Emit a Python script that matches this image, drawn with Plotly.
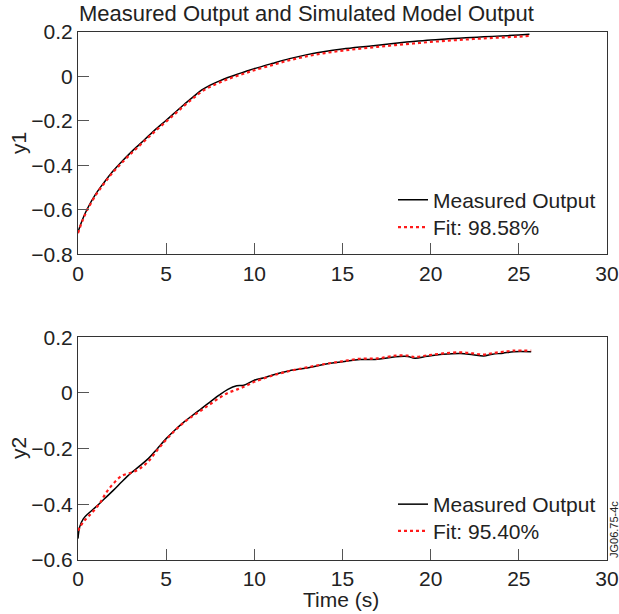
import plotly.graph_objects as go

# ---------------- data ----------------
t1_meas = [0, 0.25, 0.5, 1.0, 1.5, 2.0, 2.5, 3.0, 3.5, 4.0, 4.5, 5.0, 5.5, 6.0, 6.5, 7.0, 7.5,
           8.0, 8.5, 9.0, 9.5, 10, 11, 12, 13, 14, 15, 16, 17, 18, 19, 20, 21, 22, 23, 24, 25, 25.6]
y1_meas = [-0.700, -0.645, -0.600, -0.530, -0.475, -0.425, -0.382, -0.342, -0.305, -0.268, -0.232,
           -0.198, -0.163, -0.128, -0.095, -0.063, -0.040, -0.022, -0.006, 0.008, 0.021, 0.034,
           0.057, 0.079, 0.097, 0.111, 0.122, 0.131, 0.139, 0.148, 0.156, 0.163, 0.168, 0.173,
           0.177, 0.181, 0.185, 0.188]
y1_fit = [-0.705, -0.650, -0.605, -0.535, -0.480, -0.430, -0.388, -0.348, -0.311, -0.274, -0.238,
          -0.204, -0.169, -0.134, -0.101, -0.070, -0.047, -0.029, -0.013, 0.001, 0.014, 0.027,
          0.050, 0.072, 0.090, 0.104, 0.115, 0.124, 0.132, 0.140, 0.147, 0.154, 0.160, 0.165,
          0.170, 0.174, 0.178, 0.181]

t2_meas = [0, 0.1, 0.3, 0.6, 1.0, 1.5, 2.0, 2.5, 3.0, 3.5, 4.0, 4.5, 5.0, 5.5, 6.0, 6.5, 7.0, 7.5,
           8.0, 8.5, 9.0, 9.4, 10, 10.5, 11, 11.5, 12, 13, 14, 15, 16, 17, 18, 18.7, 19.1, 19.8,
           20.7, 21.7, 22.4, 23.0, 23.5, 24.1, 24.7, 25.7]
y2_meas = [-0.523, -0.480, -0.452, -0.432, -0.410, -0.380, -0.350, -0.318, -0.288, -0.262, -0.235,
           -0.200, -0.164, -0.133, -0.105, -0.080, -0.056, -0.032, -0.008, 0.013, 0.026, 0.028,
           0.046, 0.054, 0.064, 0.073, 0.080, 0.090, 0.103, 0.112, 0.120, 0.121, 0.130, 0.131,
           0.125, 0.132, 0.139, 0.142, 0.137, 0.133, 0.139, 0.143, 0.148, 0.148]

t2_fit = [0, 0.3, 0.6, 1.0, 1.3, 1.6, 2.0, 2.5, 3.0, 3.5, 4.0, 4.5, 5.0, 5.5, 6.0, 6.5, 7.0, 7.5,
          8.0, 8.5, 9.0, 9.5, 10, 11, 12, 13, 14, 15, 16, 17, 18, 18.7, 19.1, 19.8, 20.7, 21.7,
          22.4, 23.0, 23.5, 24.1, 24.7, 25.7]
y2_fit = [-0.495, -0.463, -0.443, -0.415, -0.390, -0.358, -0.326, -0.297, -0.287, -0.272, -0.245,
          -0.205, -0.168, -0.135, -0.106, -0.083, -0.062, -0.040, -0.018, 0.000, 0.012, 0.025,
          0.040, 0.062, 0.079, 0.092, 0.104, 0.114, 0.123, 0.124, 0.134, 0.134, 0.129, 0.135,
          0.142, 0.146, 0.142, 0.138, 0.143, 0.148, 0.152, 0.152]

x_ticks = [0, 5, 10, 15, 20, 25, 30]
y1_ticks = [-0.8, -0.6, -0.4, -0.2, 0, 0.2]
y2_ticks = [-0.6, -0.4, -0.2, 0, 0.2]
fit1_label = "Fit: 98.58%"
fit2_label = "Fit: 95.40%"


def fmt(v):
    s = "0" if v == 0 else f"{v:.1f}"
    return s.replace("-", "\u2212")


FONT = "Liberation Sans, Arial, sans-serif"
FS = 21
W, H = 619, 614
L, R = 78, 12
PW = W - L - R


def py(px):
    return 1 - px / H


def pxx(px):
    return (px - L) / PW


fig = go.Figure()

fig.add_trace(go.Scatter(x=t1_meas, y=y1_meas, mode="lines", name="Measured Output",
                         line=dict(color="black", width=1.5, shape="spline"), showlegend=True,
                         xaxis="x", yaxis="y", legend="legend"))
fig.add_trace(go.Scatter(x=t1_meas, y=y1_fit, mode="lines", name=fit1_label,
                         line=dict(color="#ff1a1a", width=2.2, dash="dot", shape="spline"),
                         showlegend=True, xaxis="x", yaxis="y", legend="legend2"))
fig.add_trace(go.Scatter(x=t2_meas, y=y2_meas, mode="lines", name="Measured Output",
                         line=dict(color="black", width=1.5, shape="spline"), showlegend=True,
                         xaxis="x2", yaxis="y2", legend="legend3"))
fig.add_trace(go.Scatter(x=t2_fit, y=y2_fit, mode="lines", name=fit2_label,
                         line=dict(color="#ff1a1a", width=2.2, dash="dot", shape="spline"),
                         showlegend=True, xaxis="x2", yaxis="y2", legend="legend4"))

axis_common = dict(showgrid=False, zeroline=False, showline=True, linecolor="#333",
                   linewidth=1, mirror=True, ticks="inside", ticklen=11, tickcolor="#555",
                   tickwidth=1, tickfont=dict(family=FONT, size=FS, color="#222"),
                   automargin=False)

xcommon = dict(axis_common, range=[0, 30], tickvals=x_ticks, ticktext=[str(v) for v in x_ticks])

legend_common = dict(bgcolor="rgba(0,0,0,0)", font=dict(family=FONT, size=FS, color="#222"),
                     tracegroupgap=0, xanchor="left", yanchor="top", x=pxx(393), visible=True)


def leg_top(center):
    return py(center - 21)


fig.update_layout(
    width=W, height=H,
    margin=dict(l=L, r=R, t=0, b=0),
    paper_bgcolor="white", plot_bgcolor="white",
    font=dict(family=FONT, color="#222"),
    hovermode=False,
    showlegend=True,
    xaxis=dict(xcommon, domain=[0, 1], anchor="y"),
    yaxis=dict(axis_common, range=[-0.8, 0.2], tickvals=y1_ticks,
               ticktext=[fmt(v) for v in y1_ticks],
               domain=[py(254.3), py(31.7)], anchor="x"),
    xaxis2=dict(xcommon, domain=[0, 1], anchor="y2"),
    yaxis2=dict(axis_common, range=[-0.6, 0.2], tickvals=y2_ticks,
                ticktext=[fmt(v) for v in y2_ticks],
                domain=[py(560), py(337.3)], anchor="x2"),
    legend=dict(legend_common, y=leg_top(200.7)),
    legend2=dict(legend_common, y=leg_top(228)),
    legend3=dict(legend_common, y=leg_top(505)),
    legend4=dict(legend_common, y=leg_top(531.7)),
    annotations=[
        dict(text="Measured Output and Simulated Model Output", xref="paper", yref="paper",
             x=pxx(77), y=py(13), xanchor="left", yanchor="middle", showarrow=False,
             font=dict(family=FONT, size=22, color="#222")),
        dict(text="y1", xref="paper", yref="paper", x=pxx(18), y=py(143),
             xanchor="center", yanchor="middle", textangle=-90, showarrow=False,
             font=dict(family=FONT, size=FS, color="#222")),
        dict(text="y2", xref="paper", yref="paper", x=pxx(18), y=py(448),
             xanchor="center", yanchor="middle", textangle=-90, showarrow=False,
             font=dict(family=FONT, size=FS, color="#222")),
        dict(text="Time (s)", xref="paper", yref="paper", x=pxx(341), y=py(599),
             xanchor="center", yanchor="middle", showarrow=False,
             font=dict(family=FONT, size=FS, color="#222")),
        dict(text="JG06.75-4c", xref="paper", yref="paper", x=pxx(614),
             y=py(530), xanchor="center", yanchor="middle", textangle=-90, showarrow=False,
             font=dict(family=FONT, size=11, color="#222")),
    ],
)

fig.write_html("out.html", config={"displayModeBar": False, "staticPlot": True},
               post_script="document.body.style.margin='0';document.body.style.overflow='hidden';")
